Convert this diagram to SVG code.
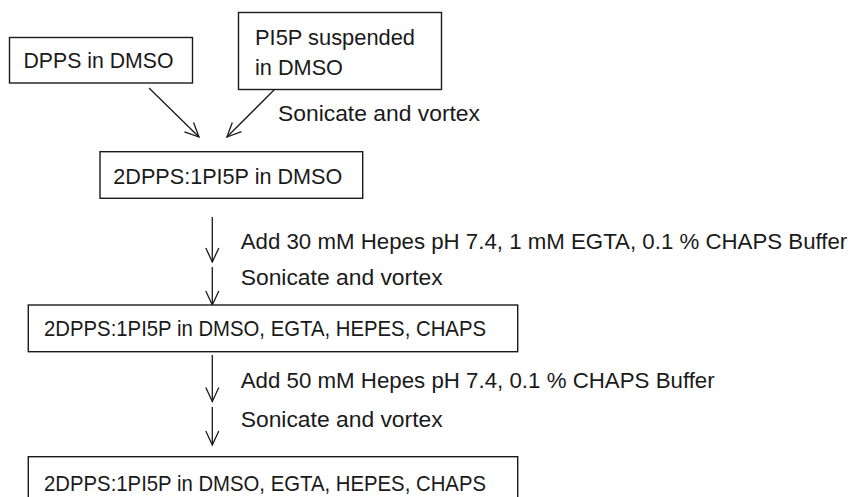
<svg xmlns="http://www.w3.org/2000/svg" width="849" height="497" viewBox="0 0 849 497">
<style>
  .box { fill: #ffffff; stroke: #1a1a1a; stroke-width: 1.4; }
  .lbl { font-family: "Liberation Sans", Arial, sans-serif; font-size: 22px; fill: #1a1a1a; }
  .conn { stroke: #1a1a1a; stroke-width: 1.3; fill: none; marker-end: url(#arr); }
</style>
<defs>
  <marker id="arr" markerUnits="userSpaceOnUse" markerWidth="16" markerHeight="16" refX="14" refY="7" orient="auto" overflow="visible">
    <path d="M0,0.5 L14,7 L0,13.5" fill="none" stroke="#1a1a1a" stroke-width="1.3"/>
  </marker>
</defs>
<rect width="849" height="497" fill="#ffffff"/>
<g id="connectors">
  <line class="conn" x1="149" y1="88" x2="199" y2="137"/>
  <line class="conn" x1="275" y1="89" x2="227" y2="137"/>
  <line class="conn" x1="212.3" y1="217" x2="212.3" y2="262"/>
  <line class="conn" x1="212.3" y1="267" x2="212.3" y2="305"/>
  <line class="conn" x1="212.3" y1="355" x2="212.3" y2="401.5"/>
  <line class="conn" x1="212.3" y1="407" x2="212.3" y2="445"/>
</g>
<g id="labels">
  <text class="lbl" x="278" y="121" textLength="202" lengthAdjust="spacingAndGlyphs">Sonicate and vortex</text>
  <text class="lbl" x="240.7" y="249" textLength="606.6" lengthAdjust="spacingAndGlyphs">Add 30 mM Hepes pH 7.4, 1 mM EGTA, 0.1 % CHAPS Buffer</text>
  <text class="lbl" x="240.7" y="285" textLength="202" lengthAdjust="spacingAndGlyphs">Sonicate and vortex</text>
  <text class="lbl" x="240.7" y="388.3" textLength="474" lengthAdjust="spacingAndGlyphs">Add 50 mM Hepes pH 7.4, 0.1 % CHAPS Buffer</text>
  <text class="lbl" x="240.7" y="427.3" textLength="202" lengthAdjust="spacingAndGlyphs">Sonicate and vortex</text>
</g>
<g id="node-dpps">
  <rect class="box" x="9.5" y="37.5" width="183" height="45.5"/>
  <text class="lbl" x="23.5" y="68" textLength="150" lengthAdjust="spacingAndGlyphs">DPPS in DMSO</text>
</g>
<g id="node-pi5p">
  <rect class="box" x="238.5" y="12.5" width="203" height="77"/>
  <text class="lbl" x="255" y="44.5" textLength="160" lengthAdjust="spacingAndGlyphs">PI5P suspended</text>
  <text class="lbl" x="255" y="75" textLength="88" lengthAdjust="spacingAndGlyphs">in DMSO</text>
</g>
<g id="node-mix1">
  <rect class="box" x="100" y="151.7" width="262.7" height="46.6"/>
  <text class="lbl" x="113.3" y="184.3" textLength="229" lengthAdjust="spacingAndGlyphs">2DPPS:1PI5P in DMSO</text>
</g>
<g id="node-mix2">
  <rect class="box" x="28.3" y="305" width="489.4" height="46.7"/>
  <text class="lbl" x="44" y="336" textLength="442" lengthAdjust="spacingAndGlyphs">2DPPS:1PI5P in DMSO, EGTA, HEPES, CHAPS</text>
</g>
<g id="node-mix3">
  <rect class="box" x="28.3" y="456.7" width="489.4" height="52"/>
  <text class="lbl" x="44" y="491" textLength="442" lengthAdjust="spacingAndGlyphs">2DPPS:1PI5P in DMSO, EGTA, HEPES, CHAPS</text>
</g>
</svg>
